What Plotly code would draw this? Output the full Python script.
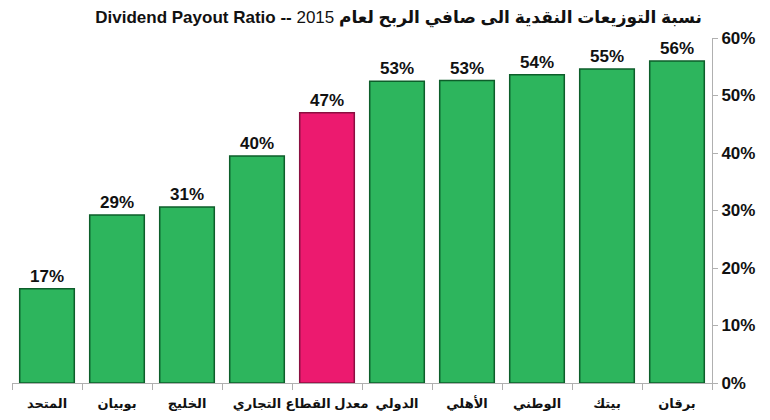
import plotly.graph_objects as go

banks = ["المتحد", "بوبيان", "الخليج", "التجاري", "معدل القطاع",
         "الدولي", "الأهلي", "الوطني", "بيتك", "برقان"]
payout = [0.164, 0.292, 0.306, 0.395, 0.470, 0.525, 0.526, 0.536, 0.546, 0.560]
labels = ["17%", "29%", "31%", "40%", "47%", "53%", "53%", "54%", "55%", "56%"]
highlight = "معدل القطاع"

green = "#2db55d"
pink = "#ec1a6f"
colors = [pink if b == highlight else green for b in banks]
edges = ["#8a0f40" if b == highlight else "#0d5e2a" for b in banks]

font_family = "Liberation Sans, Arial, DejaVu Sans, sans-serif"

# page body adds an 8px offset, so the figure is sized to fit inside the window
fig = go.Figure(go.Bar(
    x=banks,
    y=payout,
    text=labels,
    textposition="outside",
    cliponaxis=False,
    textfont=dict(size=17, color="#111", family=font_family),
    marker=dict(color=colors, line=dict(color=edges, width=1.5)),
    width=0.78,
))

fig.update_layout(
    width=762,
    height=412,
    margin=dict(l=4, r=58, t=30, b=37, autoexpand=False),
    plot_bgcolor="white",
    paper_bgcolor="white",
    font=dict(family=font_family, color="#111"),
    showlegend=False,
    title=dict(
        text="<b>Dividend Payout Ratio -- </b>2015 <b>نسبة التوزيعات النقدية الى صافي الربح لعام</b>",
        x=694 / 762, xanchor="right", xref="container",
        y=1 - 9 / 412, yanchor="middle", yref="container",
        font=dict(size=17, family=font_family, color="#111"),
    ),
)

fig.update_xaxes(
    showline=True, linecolor="#b0b0b0", linewidth=1,
    ticks="outside", tickson="boundaries", ticklen=6, tickcolor="#b0b0b0",
    tickangle=0, automargin=False, ticklabelstandoff=8,
    tickfont=dict(size=13, family=font_family, color="#111"),
    tickprefix="<b>", ticksuffix="</b>",
    showgrid=False,
)
fig.update_yaxes(
    side="right", range=[0, 0.6], dtick=0.1, tickformat=".0%",
    showline=True, linecolor="#b0b0b0", linewidth=1,
    ticks="outside", ticklen=5, tickcolor="#b0b0b0",
    tickfont=dict(size=17, family=font_family, color="#111"),
    tickprefix="<b>", ticksuffix="</b>", automargin=False,
    showgrid=False, zeroline=False,
)
fig.update_traces(texttemplate="<b>%{text}</b>")

fig.write_html("out.html")
